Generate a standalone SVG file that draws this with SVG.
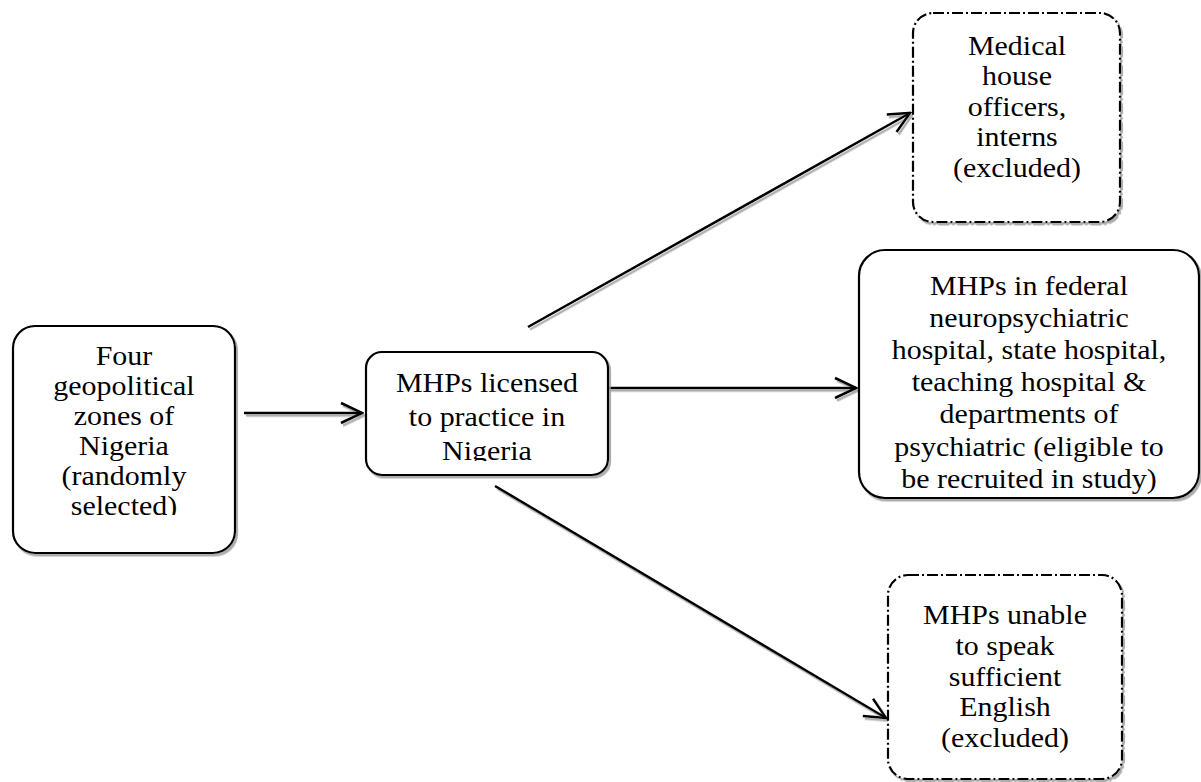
<svg xmlns="http://www.w3.org/2000/svg" width="1201" height="782" viewBox="0 0 1201 782">
  <style>
    .box { fill: #ffffff; stroke: #000000; stroke-width: 2.2; filter: url(#sh); }
    .dash { stroke-dasharray: 11 3 2 3; }
    .lbl { font-family: "Liberation Serif", "Times New Roman", serif; font-size: 28px; fill: #000000; text-anchor: middle; }
    .conn { stroke: #000000; stroke-width: 2.5; fill: none; marker-end: url(#arr); filter: url(#sh); }
  </style>
  <defs>
    <filter id="sh" filterUnits="userSpaceOnUse" x="0" y="0" width="1201" height="782">
      <feDropShadow dx="2" dy="2.5" stdDeviation="0.6" flood-color="#9a9a9a" flood-opacity="0.8"/>
    </filter>
    <marker id="arr" viewBox="0 0 24 24" refX="22" refY="12" markerWidth="24" markerHeight="24" markerUnits="userSpaceOnUse" orient="auto">
      <path d="M1,2 L22,12 L1,22" fill="none" stroke="#000000" stroke-width="2.5"/>
    </marker>
    <clipPath id="clipL"><rect x="13" y="326" width="222" height="189"/></clipPath>
    <clipPath id="clipM"><rect x="366" y="352" width="242" height="109"/></clipPath>
  </defs>
  <rect width="1201" height="782" fill="#ffffff"/>

  <g id="connectors">
    <line class="conn" x1="244" y1="413" x2="362" y2="413"/>
    <line class="conn" x1="608" y1="388" x2="856" y2="388"/>
    <line class="conn" x1="528" y1="327" x2="910" y2="113"/>
    <line class="conn" x1="495" y1="486" x2="886" y2="718"/>
  </g>

  <g id="node-zones">
    <rect class="box" x="13" y="326" width="222" height="227" rx="22"/>
    <g clip-path="url(#clipL)">
      <g transform="translate(124,0) scale(1.07,1)">
        <text class="lbl" x="0" y="365">Four</text>
        <text class="lbl" x="0" y="395">geopolitical</text>
        <text class="lbl" x="0" y="425">zones of</text>
        <text class="lbl" x="0" y="455">Nigeria</text>
        <text class="lbl" x="0" y="485">(randomly</text>
        <text class="lbl" x="0" y="515">selected)</text>
      </g>
    </g>
  </g>

  <g id="node-licensed">
    <rect class="box" x="366" y="352" width="242" height="123" rx="16"/>
    <g clip-path="url(#clipM)">
      <g transform="translate(487,0) scale(1.07,1)">
        <text class="lbl" x="0" y="392">MHPs licensed</text>
        <text class="lbl" x="0" y="426">to practice in</text>
        <text class="lbl" x="0" y="460">Nigeria</text>
      </g>
    </g>
  </g>

  <g id="node-house-officers">
    <rect class="box dash" x="913" y="13" width="207" height="209" rx="20"/>
    <g transform="translate(1017,0) scale(1.07,1)">
      <text class="lbl" x="0" y="55">Medical</text>
      <text class="lbl" x="0" y="85.5">house</text>
      <text class="lbl" x="0" y="116">officers,</text>
      <text class="lbl" x="0" y="146.5">interns</text>
      <text class="lbl" x="0" y="177">(excluded)</text>
    </g>
  </g>

  <g id="node-eligible">
    <rect class="box" x="859" y="250" width="340" height="248" rx="26"/>
    <g transform="translate(1029,0) scale(1.07,1)">
      <text class="lbl" x="0" y="295">MHPs in federal</text>
      <text class="lbl" x="0" y="327">neuropsychiatric</text>
      <text class="lbl" x="0" y="359">hospital, state hospital,</text>
      <text class="lbl" x="0" y="391">teaching hospital &amp;</text>
      <text class="lbl" x="0" y="423">departments of</text>
      <text class="lbl" x="0" y="456">psychiatric (eligible to</text>
      <text class="lbl" x="0" y="488">be recruited in study)</text>
    </g>
  </g>

  <g id="node-english">
    <rect class="box dash" x="888" y="575" width="234" height="204" rx="20"/>
    <g transform="translate(1005,0) scale(1.07,1)">
      <text class="lbl" x="0" y="624">MHPs unable</text>
      <text class="lbl" x="0" y="655">to speak</text>
      <text class="lbl" x="0" y="686">sufficient</text>
      <text class="lbl" x="0" y="716">English</text>
      <text class="lbl" x="0" y="747">(excluded)</text>
    </g>
  </g>
</svg>
